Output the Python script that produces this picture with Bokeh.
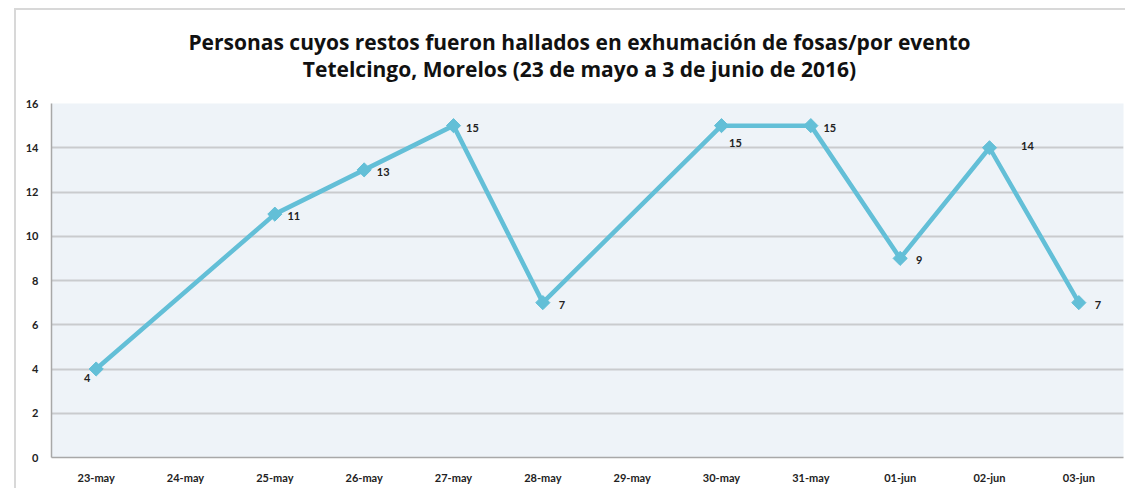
import math
from bokeh.plotting import figure
from bokeh.layouts import column
from bokeh.models import ColumnDataSource, Range1d, FixedTicker, Div, LabelSet, InlineStyleSheet
from bokeh.core.properties import value
from bokeh.embed import file_html
from bokeh.resources import INLINE

# ---- data ----
fechas = ["23-may", "24-may", "25-may", "26-may", "27-may", "28-may",
          "29-may", "30-may", "31-may", "01-jun", "02-jun", "03-jun"]
personas = [4, None, 11, 13, 15, 7, None, 15, 15, 9, 14, 7]
y_ticks = [0, 2, 4, 6, 8, 10, 12, 14, 16]
titulo_1 = "Personas cuyos restos fueron hallados en exhumación de fosas/por evento"
titulo_2 = "Tetelcingo, Morelos (23 de mayo a 3 de junio de 2016)"

# label offsets (style only, in pixels)
label_dx = {"23-may": -9, "30-may": 14, "02-jun": 38}
label_dy = {"23-may": -9, "30-may": -17, "02-jun": 2}

xs = [f for f, v in zip(fechas, personas) if v is not None]
ys = [v for v in personas if v is not None]
src = ColumnDataSource(dict(
    x=xs, y=ys, lbl=[str(v) for v in ys],
    dx=[label_dx.get(f, 19) for f in xs],
    dy=[label_dy.get(f, -2) for f in xs],
))

FONT = "Lato"
TFONT = "Open Sans"
LINE_COLOR = "#63BFD7"
W = 1125
TITLE_H = 90

# two-line title
title_div = Div(
    text=titulo_1 + "<br>" + titulo_2, width=W, height=TITLE_H, margin=(0, 0, 0, 0),
    styles={"text-align": "center", "font-family": "'Open Sans'", "font-weight": "bold",
            "font-size": "21px", "line-height": "27px", "color": "#111111",
            "padding-top": "29px", "padding-left": "34px", "box-sizing": "border-box",
            "width": f"{W}px"})

p = figure(x_range=fechas, y_range=Range1d(0, 16), width=W, height=488 - TITLE_H,
           output_backend="svg", toolbar_location=None, margin=(0, 0, 0, 0),
           min_border_left=51, min_border_right=2, min_border_top=13, min_border_bottom=31)

p.background_fill_color = "#EEF3F8"
p.border_fill_color = "white"
p.outline_line_color = None

# grid
p.xgrid.grid_line_color = None
p.ygrid.grid_line_color = "#C9CBCE"
p.ygrid.grid_line_width = 2
p.yaxis.ticker = FixedTicker(ticks=y_ticks)

for ax in (p.xaxis[0], p.yaxis[0]):
    ax.axis_line_color = "#A8A8A8"
    ax.axis_line_width = 1.5
    ax.major_tick_line_color = None
    ax.minor_tick_line_color = None
    ax.major_tick_out = 0
    ax.major_tick_in = 0
    ax.axis_label_standoff = 0
    ax.major_label_text_font = FONT
    ax.major_label_text_font_style = "bold"
    ax.major_label_text_font_size = "11px"
    ax.major_label_text_color = "#222222"
p.yaxis.major_label_standoff = 13
p.xaxis.major_label_standoff = 13

p.line("x", "y", source=src, line_color=LINE_COLOR, line_width=4.5)
p.scatter("x", "y", source=src, marker="square", angle=math.pi / 4, size=10,
          fill_color=LINE_COLOR, line_color=LINE_COLOR)

labels = LabelSet(x="x", y="y", text="lbl", source=src, x_offset="dx", y_offset="dy",
                  text_font=value(FONT), text_font_style="bold", text_font_size="11px",
                  text_color="#222222", text_align="center", text_baseline="middle")
p.add_layout(labels)

layout = column(title_div, p, spacing=0, margin=(0, 0, 0, 0),
                styles={"position": "relative"},
                stylesheets=[InlineStyleSheet(css="""
:host::after {
  content: ""; position: absolute; left: 14px; top: 8px; right: 0px; bottom: 0px;
  border-left: 2px solid #D8D8D8; border-top: 2px solid #D8D8D8;
  pointer-events: none; z-index: 50;
}
""")])

open("out.html", "w").write(file_html(layout, INLINE))
